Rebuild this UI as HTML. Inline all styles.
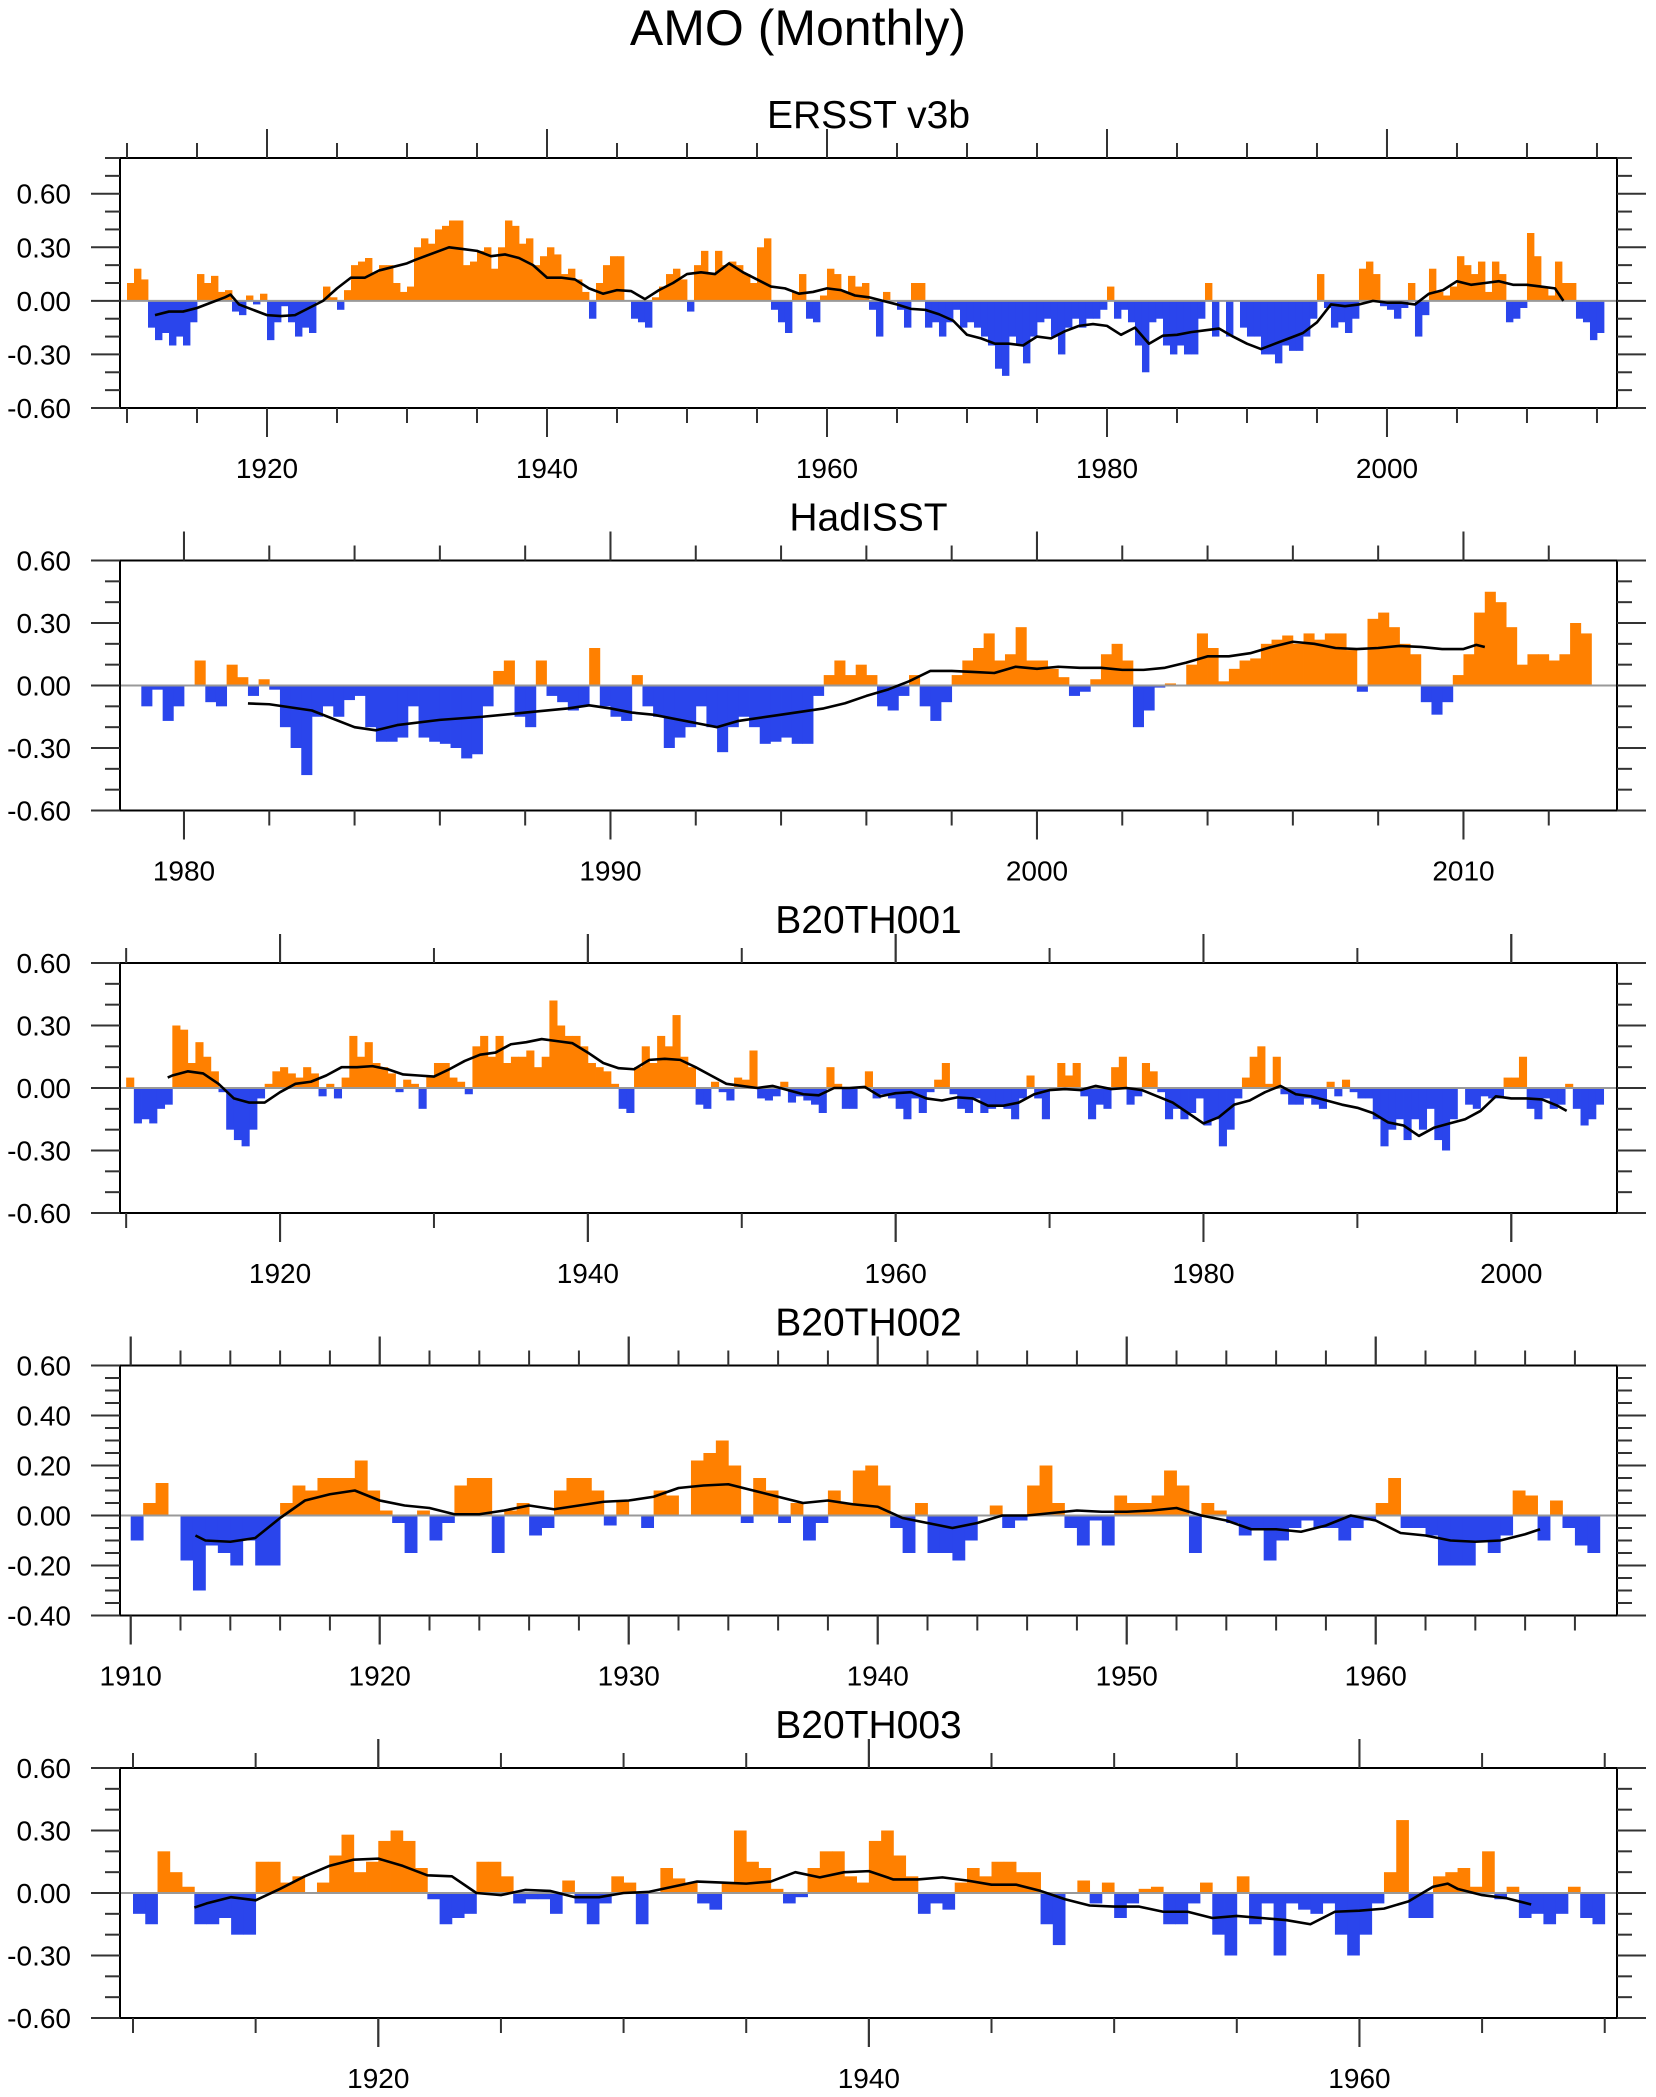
<!DOCTYPE html>
<html>
<head>
<meta charset="utf-8">
<style>
html,body{margin:0;padding:0;background:#fff;}
svg{display:block;font-family:"Liberation Sans",Arial,sans-serif;}
</style>
</head>
<body>
<svg id="chart" width="1656" height="2097" viewBox="0 0 1656 2097" xmlns="http://www.w3.org/2000/svg">
<rect x="0" y="0" width="1656" height="2097" fill="#fff"/>
<text x="798" y="45" font-size="50" text-anchor="middle" fill="#000">AMO (Monthly)</text>
</svg>
<script>
// ---------- ERSST v3b ----------
const ersstStart = 1910.0;
const ersstVals = [
0.10,0.18,0.12,-0.15,-0.22,-0.18,-0.25,-0.2,-0.25,-0.12,
0.15,0.10,0.14,0.05,0.06,-0.06,-0.08,0.03,-0.02,0.04,
-0.22,-0.12,-0.03,-0.12,-0.2,-0.15,-0.18,0.0,0.08,0.02,
-0.05,0.06,0.2,0.22,0.24,0.16,0.2,0.2,0.1,0.05,
0.08,0.3,0.35,0.32,0.4,0.42,0.45,0.45,0.2,0.22,
0.28,0.3,0.18,0.3,0.45,0.42,0.32,0.35,0.2,0.25,
0.3,0.26,0.15,0.18,0.12,0.05,-0.1,0.1,0.2,0.25,
0.25,0.0,-0.1,-0.12,-0.15,0.02,0.08,0.15,0.18,0.12,
-0.06,0.2,0.28,0.15,0.28,0.2,0.22,0.2,0.15,0.1,
0.3,0.35,-0.05,-0.12,-0.18,0.05,0.15,-0.1,-0.12,0.03,
0.18,0.15,0.05,0.14,0.08,0.1,-0.05,-0.2,0.05,0.0,
-0.05,-0.15,0.1,0.1,-0.15,-0.12,-0.2,-0.12,-0.05,-0.15,
-0.12,-0.15,-0.2,-0.25,-0.38,-0.42,-0.2,-0.25,-0.35,-0.2,
-0.12,-0.1,-0.2,-0.3,-0.15,-0.1,-0.15,-0.1,-0.1,-0.05,
0.08,-0.1,-0.05,-0.12,-0.25,-0.4,-0.12,-0.1,-0.25,-0.3,
-0.25,-0.3,-0.3,-0.1,0.1,-0.2,0.0,-0.2,0.0,-0.15,
-0.2,-0.2,-0.3,-0.3,-0.35,-0.25,-0.28,-0.28,-0.2,-0.1,
0.15,-0.04,-0.15,-0.12,-0.18,-0.1,0.18,0.22,0.15,-0.03,
-0.05,-0.1,-0.04,0.1,-0.2,-0.08,0.18,0.05,0.03,0.08,
0.25,0.2,0.15,0.22,0.05,0.22,0.15,-0.12,-0.1,-0.04,
0.38,0.25,0.08,0.03,0.22,0.1,0.1,-0.1,-0.12,-0.22,
-0.18];
const ersstLineYears = [1912,1913,1914,1915,1916,1917,1917.4,1918,1919,1920,1921,1922,1923,1924,1925,1926,1927,1928,1929,1930,1930.6,1933,1934,1935,1936,1937,1938,1939,1940,1941,1942,1943,1944,1945,1946,1947,1948,1949,1950,1951,1952,1953,1954,1955,1956,1957,1958,1959,1960,1961,1962,1963,1964,1965,1966,1967,1968,1969,1970,1971,1972,1973,1974,1975,1976,1977,1978,1979,1980,1981,1982,1983,1984,1985,1986,1987,1988,1989,1990,1991,1992,1993,1994,1995,1996,1997,1998,1999,2000,2001,2002,2003,2004,2005,2006,2007,2008,2009,2010,2011,2012,2012.6];
const ersstLineVals = [-0.08,-0.06,-0.06,-0.04,-0.01,0.02,0.035,-0.02,-0.05,-0.08,-0.085,-0.08,-0.04,0.0,0.07,0.13,0.13,0.17,0.19,0.21,0.23,0.30,0.29,0.28,0.25,0.26,0.24,0.2,0.13,0.13,0.12,0.07,0.04,0.06,0.055,0.01,0.06,0.1,0.15,0.16,0.15,0.21,0.16,0.12,0.08,0.07,0.04,0.05,0.07,0.06,0.03,0.02,0.0,-0.02,-0.045,-0.05,-0.075,-0.11,-0.19,-0.21,-0.24,-0.24,-0.25,-0.2,-0.21,-0.17,-0.14,-0.13,-0.14,-0.19,-0.15,-0.24,-0.195,-0.19,-0.175,-0.165,-0.155,-0.2,-0.24,-0.27,-0.24,-0.21,-0.18,-0.12,-0.02,-0.03,-0.02,0.0,-0.01,-0.01,-0.02,0.04,0.06,0.11,0.09,0.1,0.11,0.09,0.09,0.08,0.07,0.0];

// ---------- HadISST ----------
const hadStart = 1979.0;
const hadVals = [
-0.1,-0.02,-0.17,-0.1, 0.0,0.12,-0.08,-0.1, 0.1,0.04,-0.05,0.03,
-0.02,-0.2,-0.3,-0.43, -0.15,-0.1,-0.15,-0.07, -0.05,-0.2,-0.27,-0.27,
-0.25,-0.1,-0.25,-0.27, -0.28,-0.3,-0.35,-0.33, -0.1,0.07,0.12,-0.15,
-0.2,0.12,-0.05,-0.08, -0.12,-0.1,0.18,-0.1, -0.15,-0.17,0.05,-0.1,
-0.15,-0.3,-0.25,-0.2, -0.1,-0.2,-0.32,-0.2, -0.15,-0.2,-0.28,-0.27,
-0.25,-0.28,-0.28,-0.05, 0.05,0.12,0.05,0.1, 0.05,-0.1,-0.12,-0.05,
0.05,-0.1,-0.17,-0.08, 0.05,0.12,0.18,0.25, 0.12,0.15,0.28,0.12,
0.12,0.08,0.04,-0.05, -0.03,0.03,0.15,0.2, 0.12,-0.2,-0.12,-0.01,
0.01,0.0,0.1,0.25, 0.18,0.02,0.08,0.12, 0.13,0.2,0.22,0.24,
0.2,0.25,0.22,0.25, 0.25,0.17,-0.03,0.32, 0.35,0.28,0.2,0.15,
-0.08,-0.14,-0.08,0.05, 0.15,0.35,0.45,0.4, 0.28,0.1,0.15,0.15,
0.12,0.15,0.3,0.25];
const hadLineYears = [1981.5,1982,1983,1984,1984.5,1985,1986,1987,1988,1989,1989.5,1990,1990.5,1991,1992,1992.5,1993,1994,1995,1995.5,1996,1996.5,1997,1997.5,1998,1998.5,1999,1999.5,2000,2000.5,2001,2001.5,2002,2002.5,2003,2003.5,2004,2004.5,2005,2005.5,2006,2006.5,2007,2007.5,2008,2008.5,2009,2009.5,2010,2010.3,2010.5];
const hadLineVals = [-0.086,-0.09,-0.12,-0.2,-0.215,-0.19,-0.165,-0.15,-0.13,-0.11,-0.095,-0.11,-0.13,-0.14,-0.18,-0.2,-0.17,-0.14,-0.11,-0.085,-0.05,-0.02,0.02,0.07,0.07,0.065,0.06,0.09,0.08,0.09,0.085,0.085,0.075,0.075,0.085,0.11,0.14,0.14,0.155,0.185,0.21,0.2,0.18,0.175,0.18,0.19,0.185,0.175,0.175,0.195,0.185];

// ---------- B20TH001 ----------
const b1Start = 1910.0;
const b1Vals = [
0.05,-0.17,-0.15,-0.17,-0.1,-0.08,0.3,0.28,0.12,0.22,
0.15,0.08,-0.02,-0.2,-0.25,-0.28,-0.2,-0.05,0.02,0.08,
0.1,0.07,0.05,0.1,0.07,-0.04,0.02,-0.05,0.05,0.25,
0.15,0.22,0.12,0.1,0.07,-0.02,0.04,0.02,-0.1,0.06,
0.12,0.12,0.05,0.03,-0.03,0.2,0.25,0.15,0.25,0.12,
0.15,0.15,0.18,0.1,0.15,0.42,0.3,0.25,0.25,0.2,
0.12,0.1,0.08,0.02,-0.1,-0.12,0.1,0.2,0.12,0.25,
0.2,0.35,0.15,0.1,-0.08,-0.1,0.03,-0.02,-0.06,0.05,
0.04,0.18,-0.05,-0.06,-0.04,0.03,-0.07,-0.04,-0.06,-0.08,
-0.12,0.1,0.02,-0.1,-0.1,0.0,0.08,-0.05,-0.03,-0.05,
-0.1,-0.15,-0.05,-0.12,-0.02,0.04,0.12,-0.03,-0.1,-0.12,
-0.05,-0.12,-0.1,-0.08,-0.1,-0.15,-0.05,0.06,-0.05,-0.15,
0.0,0.12,0.06,0.12,-0.04,-0.15,-0.08,-0.1,0.1,0.15,
-0.08,-0.04,0.12,0.08,-0.02,-0.15,-0.1,-0.15,-0.12,-0.05,
-0.18,-0.15,-0.28,-0.2,-0.05,0.05,0.15,0.2,0.02,0.15,
-0.03,-0.08,-0.08,-0.05,-0.08,-0.1,0.03,-0.04,0.04,-0.02,
-0.05,-0.05,-0.15,-0.28,-0.2,-0.15,-0.25,-0.15,-0.2,-0.1,
-0.25,-0.3,-0.15,0.0,-0.08,-0.1,-0.04,-0.05,-0.05,0.05,
0.05,0.15,-0.1,-0.15,-0.05,-0.1,-0.08,0.02,-0.1,-0.18,
-0.15,-0.08];
const b1LineYears = [1912.7,1913,1914,1915,1916,1917,1918,1919,1920,1921,1922,1923,1924,1925,1926,1927,1928,1929,1930,1931,1932,1933,1934,1935,1936,1937,1938,1939,1940,1941,1942,1943,1944,1945,1946,1947,1948,1949,1950,1951,1952,1953,1954,1955,1956,1957,1958,1959,1960,1961,1962,1963,1964,1965,1966,1967,1968,1969,1970,1971,1972,1973,1974,1975,1976,1977,1978,1979,1980,1981,1982,1983,1984,1985,1986,1987,1988,1989,1990,1991,1992,1993,1994,1995,1996,1997,1998,1999,2000,2001,2002,2003,2003.6];
const b1LineVals = [0.05,0.06,0.08,0.07,0.02,-0.05,-0.07,-0.07,-0.02,0.02,0.03,0.06,0.1,0.1,0.105,0.09,0.065,0.06,0.055,0.09,0.13,0.16,0.17,0.21,0.22,0.235,0.225,0.215,0.17,0.12,0.095,0.09,0.135,0.14,0.135,0.1,0.06,0.02,0.01,0.0,0.01,-0.01,-0.03,-0.035,0.0,0.0,0.005,-0.04,-0.025,-0.02,-0.05,-0.06,-0.045,-0.05,-0.085,-0.085,-0.07,-0.03,-0.01,-0.005,-0.01,0.01,-0.005,0.0,-0.01,-0.04,-0.07,-0.12,-0.17,-0.14,-0.08,-0.06,-0.02,0.01,-0.03,-0.04,-0.06,-0.08,-0.095,-0.12,-0.165,-0.18,-0.23,-0.19,-0.17,-0.15,-0.11,-0.04,-0.05,-0.05,-0.055,-0.085,-0.11];

// ---------- B20TH002 ----------
const b2Start = 1910.0;
const b2Vals = [
-0.1,0.05,0.13,0.0,-0.18,-0.3,-0.12,-0.15,-0.2,-0.1,
-0.2,-0.2,0.05,0.12,0.1,0.15,0.15,0.15,0.22,0.1,
0.02,-0.03,-0.15,0.02,-0.1,-0.03,0.12,0.15,0.15,-0.15,
0.02,0.05,-0.08,-0.05,0.1,0.15,0.15,0.1,-0.04,0.06,
0.0,-0.05,0.1,0.08,0.0,0.22,0.25,0.3,0.2,-0.03,
0.15,0.1,-0.03,0.05,-0.1,-0.03,0.1,0.05,0.18,0.2,
0.12,-0.05,-0.15,0.05,-0.15,-0.15,-0.18,-0.1,0.0,0.04,
-0.05,-0.02,0.12,0.2,0.05,-0.05,-0.12,-0.02,-0.12,0.08,
0.05,0.05,0.08,0.18,0.12,-0.15,0.05,0.02,-0.03,-0.08,
-0.05,-0.18,-0.1,-0.05,-0.02,-0.05,-0.05,-0.1,-0.05,-0.02,
0.05,0.15,-0.05,-0.05,-0.08,-0.2,-0.2,-0.2,-0.1,-0.15,
-0.08,0.1,0.08,-0.1,0.06,-0.05,-0.12,-0.15];
const b2LineYears = [1912.6,1913,1914,1915,1916,1917,1918,1919,1920,1921,1922,1923,1924,1925,1926,1927,1928,1929,1930,1931,1932,1933,1934,1935,1936,1937,1938,1939,1940,1941,1942,1943,1944,1945,1946,1947,1948,1949,1950,1951,1952,1953,1954,1955,1956,1957,1958,1959,1960,1961,1962,1963,1964,1965,1966,1966.6];
const b2LineVals = [-0.08,-0.1,-0.105,-0.09,-0.01,0.06,0.085,0.1,0.06,0.04,0.03,0.005,0.005,0.02,0.04,0.025,0.04,0.055,0.06,0.075,0.11,0.12,0.125,0.1,0.075,0.05,0.06,0.045,0.035,-0.01,-0.03,-0.05,-0.03,0.0,0.0,0.01,0.02,0.015,0.015,0.02,0.03,0.0,-0.02,-0.055,-0.055,-0.065,-0.04,0.0,-0.02,-0.07,-0.08,-0.1,-0.105,-0.1,-0.075,-0.055];

// ---------- B20TH003 ----------
const b3Start = 1910.0;
const b3Vals = [
-0.1,-0.15,0.2,0.1,0.03,-0.15,-0.15,-0.12,-0.2,-0.2,
0.15,0.15,0.05,0.08,0.0,0.05,0.18,0.28,0.1,0.15,
0.25,0.3,0.25,0.12,-0.03,-0.15,-0.12,-0.1,0.15,0.15,
0.08,-0.05,-0.03,-0.03,-0.1,0.06,-0.05,-0.15,-0.05,0.08,
0.05,-0.15,0.0,0.12,0.07,0.05,-0.05,-0.08,0.05,0.3,
0.15,0.12,0.02,-0.05,-0.02,0.12,0.2,0.2,0.08,0.05,
0.25,0.3,0.18,0.08,-0.1,-0.05,-0.08,0.05,0.12,0.08,
0.15,0.15,0.1,0.1,-0.15,-0.25,0.0,0.06,-0.05,0.05,
-0.12,-0.05,0.02,0.03,-0.15,-0.15,-0.05,0.05,-0.2,-0.3,
0.08,-0.15,-0.05,-0.3,-0.05,-0.08,-0.1,-0.05,-0.2,-0.3,
-0.2,-0.05,0.1,0.35,-0.12,-0.12,0.08,0.1,0.12,0.03,
0.2,-0.03,0.03,-0.12,-0.1,-0.15,-0.1,0.03,-0.12,-0.15];
const b3LineYears = [1912.5,1913,1914,1915,1916,1917,1918,1919,1920,1921,1922,1923,1924,1925,1926,1927,1928,1929,1930,1931,1932,1933,1934,1935,1936,1937,1938,1939,1940,1941,1942,1943,1944,1945,1946,1947,1948,1949,1950,1951,1952,1953,1954,1955,1956,1957,1958,1959,1960,1961,1962,1963,1963.6,1964,1965,1966,1967];
const b3LineVals = [-0.07,-0.05,-0.02,-0.035,0.02,0.08,0.13,0.16,0.165,0.13,0.085,0.08,0.0,-0.01,0.015,0.01,-0.02,-0.02,0.0,0.005,0.03,0.055,0.05,0.045,0.055,0.1,0.075,0.1,0.105,0.065,0.065,0.075,0.06,0.04,0.04,0.01,-0.03,-0.06,-0.065,-0.065,-0.09,-0.09,-0.12,-0.11,-0.12,-0.13,-0.15,-0.09,-0.085,-0.075,-0.04,0.03,0.045,0.02,-0.01,-0.025,-0.055];

// ---------- axis labels ----------
const yLabels3 = ["-0.60","-0.30","0.00","0.30","0.60"];
const yLabels2 = ["-0.40","-0.20","0.00","0.20","0.40","0.60"];
const xLabelsErsst = ["1920","1940","1960","1980","2000"];
const xLabelsHad = ["1980","1990","2000","2010"];
const xLabelsB1 = ["1920","1940","1960","1980","2000"];
const xLabelsB2 = ["1910","1920","1930","1940","1950","1960"];
const xLabelsB3 = ["1920","1940","1960"];

const NS = "http://www.w3.org/2000/svg";
const svg = document.getElementById('chart');
const L = 120, R = 1617, H = 250;
function mk(tag, attrs, parent){
  const e = document.createElementNS(NS, tag);
  for (const k in attrs) e.setAttribute(k, attrs[k]);
  (parent||svg).appendChild(e);
  return e;
}

function panel(idx, title, xmin, xmax, ymin, ymax, yMajor, yMinor, yLabels, xLabels, xMinorStep, xMinorFrom, xMinorTo, barStart, barStep, vals, lnX, lnY){
  const top = 158 + 402.5*idx, bot = top + H;
  const g = mk('g', {});
  
  
  const xs = v => L + (v - xmin)/(xmax - xmin)*(R - L);
  const ys = v => bot - (v - ymin)/(ymax - ymin)*H;
  const y0 = ys(0);
  const t = mk('text', {x: (L+R)/2, y: top - 30, 'font-size': 39, 'text-anchor': 'middle', fill: '#000'}, g);
  t.textContent = title;
  
  
  const bg = mk('g', {}, g);
  
  
  for (let i = 0; i < vals.length; i++){
    const v = vals[i];
    if (v === 0) continue;
    const x1 = xs(barStart + i*barStep), x2 = xs(barStart + (i+1)*barStep);
    const yv = ys(v);
    const r = mk('rect', {x: x1.toFixed(2), y: Math.min(yv,y0).toFixed(2), width: (x2-x1+0.4).toFixed(2), height: Math.abs(y0-yv).toFixed(2), fill: v > 0 ? '#ff8000' : '#2a45ec'}, bg);
    
    
  }
  const z = mk('line', {x1: L, x2: R, y1: y0, y2: y0, stroke: '#999', 'stroke-width': 2}, g);
  
  
  let d = '';
  for (let i = 0; i < lnX.length; i++) d += (i ? 'L' : 'M') + xs(lnX[i]).toFixed(2) + ',' + ys(lnY[i]).toFixed(2);
  const p = mk('path', {d: d, fill: 'none', stroke: '#000', 'stroke-width': 2.6, 'stroke-linejoin': 'round'}, g);
  
  
  const f = mk('rect', {x: L, y: top, width: R-L, height: H, fill: 'none', stroke: '#000', 'stroke-width': 2}, g);
  
  
  const tg = mk('g', {stroke: '#333', 'stroke-width': 2}, g);
  
  
  const nMin = Math.round((ymax - ymin)/yMinor);
  for (let k = 0; k <= nMin; k++){
    const v = ymin + k*yMinor;
    const major = Math.abs(Math.round(v/yMajor)*yMajor - v) < 1e-6;
    const len = major ? 29 : 15;
    const y = ys(v);
    mk('line', {x1: L-len, x2: L, y1: y, y2: y}, tg);
    mk('line', {x1: R, x2: R+len, y1: y, y2: y}, tg);
  }
  yLabels.forEach(s => {
    const v = parseFloat(s);
    const tl = mk('text', {x: 71, y: ys(v) + 10, 'font-size': 28, 'text-anchor': 'end', fill: '#000'}, g);
    tl.textContent = s;
    
    
  });
  const majors = xLabels.map(Number);
  for (let yr = xMinorFrom; yr <= xMinorTo + 1e-6; yr += xMinorStep){
    const x = xs(yr);
    if (x < L - 1 || x > R + 1) continue;
    const len = majors.includes(yr) ? 29 : 15;
    mk('line', {x1: x, x2: x, y1: top - len, y2: top}, tg);
    mk('line', {x1: x, x2: x, y1: bot, y2: bot + len}, tg);
  }
  majors.forEach(yr => {
    const x = xs(yr);
    mk('line', {x1: x, x2: x, y1: top - 29, y2: top}, tg);
    mk('line', {x1: x, x2: x, y1: bot, y2: bot + 29}, tg);
    const tl = mk('text', {x: x, y: bot + 70, 'font-size': 28, 'text-anchor': 'middle', fill: '#000'}, g);
    tl.textContent = String(yr);
    
    
  });
}

panel(0, 'ERSST v3b', 1909.5, 2016.43, -0.6, 0.8, 0.3, 0.1, yLabels3, xLabelsErsst, 5, 1910, 2015, ersstStart, 0.5, ersstVals, ersstLineYears, ersstLineVals);
panel(1, 'HadISST', 1978.5, 2013.6, -0.6, 0.6, 0.3, 0.1, yLabels3, xLabelsHad, 2, 1978, 2014, hadStart, 0.25, hadVals, hadLineYears, hadLineVals);
panel(2, 'B20TH001', 1909.6, 2006.87, -0.6, 0.6, 0.3, 0.1, yLabels3, xLabelsB1, 10, 1910, 2000, b1Start, 0.5, b1Vals, b1LineYears, b1LineVals);
panel(3, 'B20TH002', 1909.57, 1969.69, -0.4, 0.6, 0.2, 0.05, yLabels2, xLabelsB2, 2, 1910, 1968, b2Start, 0.5, b2Vals, b2LineYears, b2LineVals);
panel(4, 'B20TH003', 1909.47, 1970.5, -0.6, 0.6, 0.3, 0.1, yLabels3, xLabelsB3, 5, 1910, 1970, b3Start, 0.5, b3Vals, b3LineYears, b3LineVals);
</script>
</body>
</html>
